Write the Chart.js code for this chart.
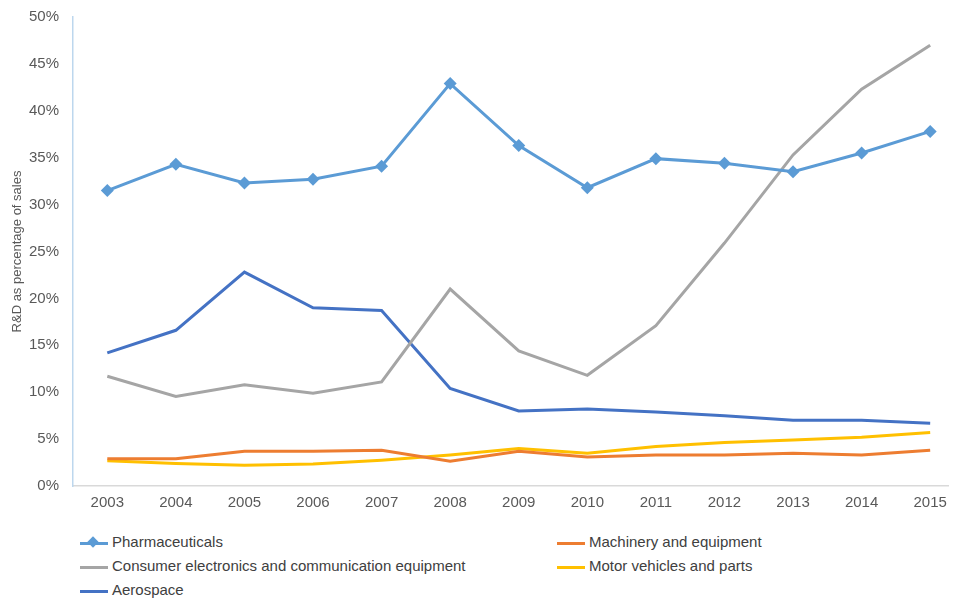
<!DOCTYPE html>
<html>
<head>
<meta charset="utf-8">
<script src="https://cdn.jsdelivr.net/npm/chart.js@4/dist/chart.umd.min.js"></script>
<style>
  html, body { margin: 0; padding: 0; background: #fff; }
  #wrap { position: relative; width: 955px; height: 598px; overflow: hidden; }
  #box { position: absolute; left: 0; top: -6px; width: 955px; height: 531px; }
  .lg { position: absolute; font-family: "Liberation Sans Narrow", "Liberation Sans", Arial, sans-serif;
        font-size: 15px; color: #404040; white-space: nowrap; }
  .lg i { display: inline-block; position: absolute; left: -32px; top: 9px; width: 28px; height: 3px; }
  .lg b { position: absolute; left: -23px; top: 5px; width: 8px; height: 8px; transform: rotate(45deg); }
</style>
</head>
<body>
<div id="wrap">
  <div id="box"><canvas id="tablapro"></canvas></div>
</div>
<script>
const years = [2003, 2004, 2005, 2006, 2007, 2008, 2009, 2010, 2011, 2012, 2013, 2014, 2015];
const pharma    = [31.5, 34.3, 32.3, 32.7, 34.1, 42.9, 36.3, 31.8, 34.9, 34.4, 33.5, 35.5, 37.8];
const machinery = [2.9, 2.9, 3.7, 3.7, 3.8, 2.65, 3.7, 3.1, 3.3, 3.3, 3.5, 3.3, 3.8];
const consumer  = [11.7, 9.55, 10.8, 9.9, 11.1, 21.0, 14.4, 11.8, 17.1, 25.9, 35.3, 42.3, 47.0];
const motor     = [2.7, 2.4, 2.2, 2.35, 2.75, 3.3, 4.0, 3.5, 4.2, 4.65, 4.9, 5.2, 5.7];
const aerospace = [14.2, 16.6, 22.8, 19.0, 18.7, 10.4, 8.0, 8.2, 7.9, 7.5, 7.0, 7.0, 6.7];
const yTicks = [0, 5, 10, 15, 20, 25, 30, 35, 40, 45, 50];

const series = [
  { label: 'Pharmaceuticals', values: pharma, color: '#5B9BD5', marker: true, lx: 112, ly: 533 },
  { label: 'Machinery and equipment', values: machinery, color: '#ED7D31', lx: 589, ly: 533 },
  { label: 'Consumer electronics and communication equipment', values: consumer, color: '#A5A5A5', lx: 112, ly: 557 },
  { label: 'Motor vehicles and parts', values: motor, color: '#FFC000', lx: 589, ly: 557 },
  { label: 'Aerospace', values: aerospace, color: '#4472C4', lx: 112, ly: 581 }
];

const tickFont = { family: '"Liberation Sans Narrow", "Liberation Sans", Arial, sans-serif', size: 15 };

const datasets = series.map(s => ({
  label: s.label,
  data: years.map((y, i) => ({ x: y, y: s.values[i] })),
  borderColor: s.color,
  backgroundColor: s.color,
  borderWidth: 3,
  tension: 0,
  pointStyle: 'rectRot',
  pointRadius: s.marker ? 6.5 : 0,
  pointBorderWidth: 0
}));
// pharma drawn on top
datasets.forEach((d, i) => d.order = i === 0 ? 0 : 1);

new Chart(document.getElementById('tablapro'), {
  type: 'line',
  data: { datasets: datasets },
  options: {
    responsive: true,
    maintainAspectRatio: false,
    animation: false,
    layout: { padding: { top: 0, right: 0, bottom: 0, left: 10 } },
    plugins: { legend: { display: false }, tooltip: { enabled: false } },
    scales: {
      x: {
        type: 'linear',
        min: 2002.5,
        max: 2015.26,
        afterBuildTicks: sc => { sc.ticks = years.map(v => ({ value: v })); },
        afterFit: sc => { sc.height = 39; },
        grid: { display: false, drawTicks: false },
        border: { color: '#D9D9D9', width: 1.5 },
        ticks: { color: '#595959', font: tickFont, padding: 8, maxRotation: 0, callback: v => String(v) }
      },
      y: {
        min: 0,
        max: 50,
        afterBuildTicks: sc => { sc.ticks = yTicks.map(v => ({ value: v })); },
        afterFit: sc => { sc.width = 63; },
        grid: { display: false, drawTicks: false },
        border: { color: '#BDD7EE', width: 1.5 },
        ticks: { color: '#595959', font: tickFont, padding: 14, callback: v => v + '%' },
        title: {
          display: true,
          text: 'R&D as percentage of sales',
          color: '#595959',
          font: { family: '"Liberation Sans", Arial, sans-serif', size: 13 },
          padding: { top: 0, bottom: 0 }
        }
      }
    }
  }
});

const wrap = document.getElementById('wrap');
series.forEach(s => {
  const el = document.createElement('div');
  el.className = 'lg';
  el.style.left = s.lx + 'px';
  el.style.top = s.ly + 'px';
  const ln = document.createElement('i');
  ln.style.background = s.color;
  el.appendChild(ln);
  if (s.marker) {
    const mk = document.createElement('b');
    mk.style.background = s.color;
    el.appendChild(mk);
  }
  el.appendChild(document.createTextNode(s.label));
  wrap.appendChild(el);
});
</script>
</body>
</html>
